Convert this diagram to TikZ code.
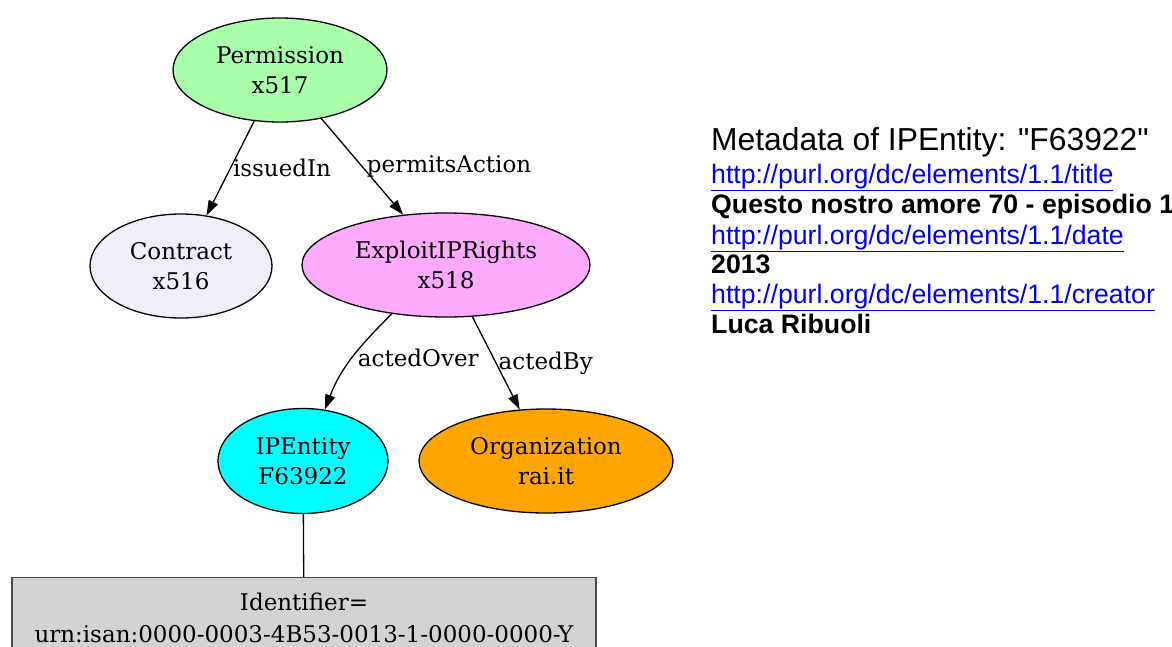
\documentclass[tikz,border=0pt]{standalone}
\usepackage{fontspec}
\setmainfont{DejaVu Serif}
\newfontfamily\arialfont{Liberation Sans}
\usetikzlibrary{shapes.geometric,arrows.meta}

\definecolor{permfill}{HTML}{AAFFAA}
\definecolor{contfill}{HTML}{EFEFFA}
\definecolor{explfill}{HTML}{FFAAFF}
\definecolor{entfill}{HTML}{00FFFF}
\definecolor{orgfill}{HTML}{FFA500}
\definecolor{idfill}{HTML}{D3D3D3}
\definecolor{linkblue}{HTML}{0000EE}

\tikzset{
  gnode/.style={ellipse, draw=black, line width=1.3pt, inner sep=0pt,
    align=center, font=\fontsize{23}{30}\selectfont},
  rel/.style={-{Triangle[length=15pt,width=10pt]}, line width=1.3pt},
  rellabel/.style={font=\fontsize{23}{28}\selectfont, anchor=west, inner sep=2pt},
  idbox/.style={rectangle, draw=black!70, fill=idfill, line width=1.4pt,
    align=center, font=\fontsize{23}{32}\selectfont, anchor=north,
    minimum width=584pt, minimum height=80pt, inner sep=0pt, text depth=0pt},
  metahead/.style={anchor=base west, inner sep=0pt, font=\arialfont\fontsize{31.8}{34}\selectfont},
  metalink/.style={anchor=base west, inner sep=0pt, text=linkblue, font=\arialfont\fontsize{26.7}{30}\selectfont},
  metaval/.style={anchor=base west, inner sep=0pt, font=\arialfont\bfseries\fontsize{26.7}{30}\selectfont}
}

\begin{document}
\begin{tikzpicture}[x=1pt,y=-1pt]
\useasboundingbox (0,0) rectangle (1172,646);
\clip (0,0) rectangle (1172,646);

% graph nodes
\node[gnode, fill=permfill, minimum width=214pt, minimum height=104pt] (perm) at (280,70) {Permission\\x517};
\node[gnode, fill=contfill, minimum width=182pt, minimum height=104pt] (cont) at (181,266) {Contract\\x516};
\node[gnode, fill=explfill, minimum width=288pt, minimum height=104pt] (expl) at (446,265) {ExploitIPRights\\x518};
\node[gnode, fill=entfill, minimum width=170pt, minimum height=105pt] (ent) at (303,461) {IPEntity\\F63922};
\node[gnode, fill=orgfill, minimum width=254pt, minimum height=104pt] (org) at (546,461) {Organization\\rai.it};
\node[idbox] (ident) at (304,577) {\rule{0pt}{13pt}Identifier=\\urn:isan:0000-0003-4B53-0013-1-0000-0000-Y};

% relations
\draw[rel] (perm) -- node[rellabel]{issuedIn} (cont);
\draw[rel] (perm) -- node[rellabel, xshift=2pt]{permitsAction} (expl);
\draw[rel] (expl.-138) to[out=-135,in=69] node[rellabel, xshift=3pt]{actedOver} (ent.67);
\draw[rel] (expl) -- node[rellabel]{actedBy} (org);
\draw[line width=1.3pt] (ent) -- (ident);

% metadata listing
\node[metahead] (mtitle) at (711,150) {Metadata of IPEntity: "F63922"};
\node[metalink] (k1) at (711,183) {\underline{http://purl.org/dc/elements/1.1/title}};
\node[metaval] (v1) at (711,213) {Questo nostro amore 70 - episodio 1};
\node[metalink] (k2) at (711,244) {\underline{http://purl.org/dc/elements/1.1/date}};
\node[metaval] (v2) at (711,273) {2013};
\node[metalink] (k3) at (711,303) {\underline{http://purl.org/dc/elements/1.1/creator}};
\node[metaval] (v3) at (711,333) {Luca Ribuoli};
\end{tikzpicture}
\end{document}
